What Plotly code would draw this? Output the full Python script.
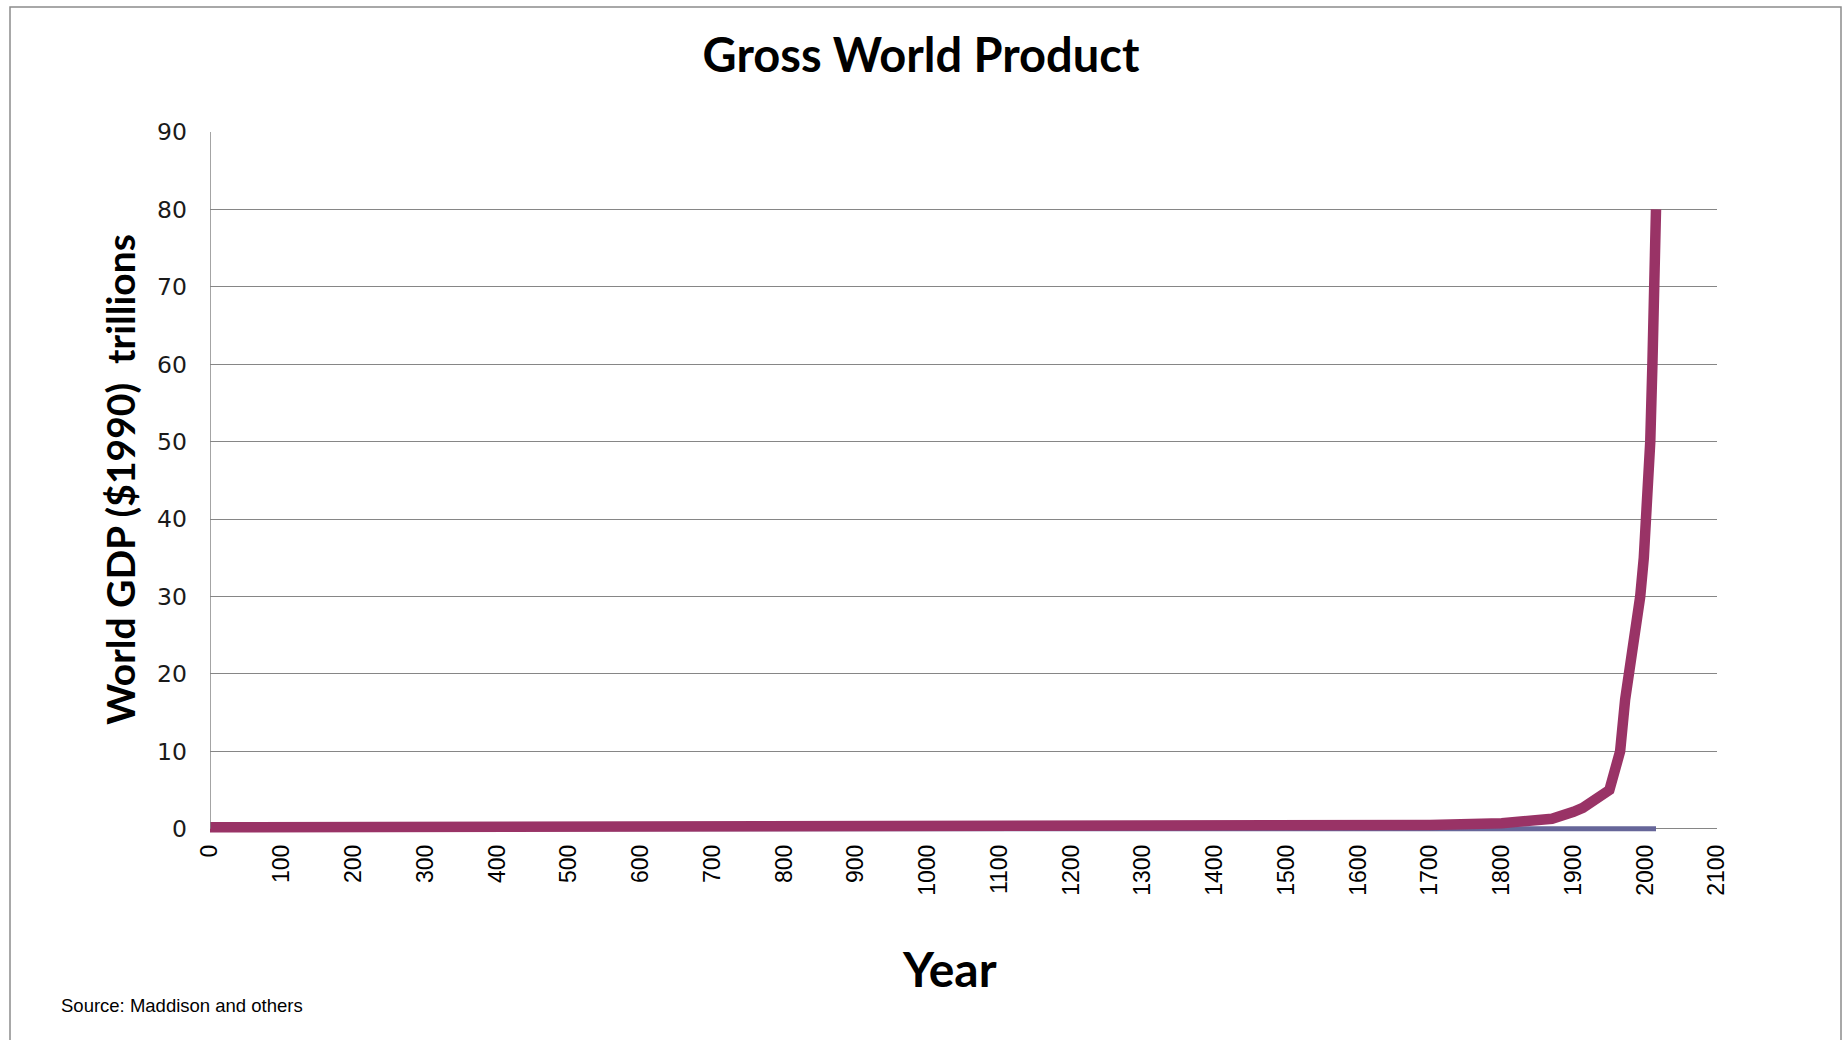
import plotly.graph_objects as go

# ---- data ----
red_years = [0, 1000, 1500, 1600, 1700, 1800, 1850, 1870, 1900, 1913, 1950,
             1958, 1965, 1972, 1978, 1986, 1993, 1998, 2002, 2003, 2007,
             2010, 2013, 2015]
red_values = [0.2, 0.22, 0.3, 0.35, 0.5, 0.72, 1.1, 1.3, 2.2, 2.7, 5.0,
              7.2, 10.0, 16.7, 20.0, 26.0, 30.0, 35.0, 40.0, 42.5, 50.0,
              60.0, 70.0, 80.0]

blue_years = [0, 1000, 1500, 1820, 1900, 1950, 2000, 2015]
blue_values = [0.0, 0.0, 0.0, 0.0, 0.0, 0.0, 0.0, 0.0]

x_ticks = list(range(0, 2101, 100))
y_ticks = list(range(0, 91, 10))

title_text = "Gross World Product"
y_title = "World GDP ($1990)  trillions"
x_title = "Year"
source_text = "Source: Maddison and others"

# ---- geometry helpers (pixels -> paper) ----
W, H = 1842, 1040
L, R, T = 210, 125, 132
y_lo, y_hi = -0.8, 90
px_per_unit = (829.3 - 132) / 90
plot_h = (y_hi - y_lo) * px_per_unit
B = H - T - plot_h
plot_w = W - L - R
bottom_px = T + plot_h


def px(xp):
    return (xp - L) / plot_w


def py(yp):
    return (bottom_px - yp) / plot_h


fig = go.Figure()
fig.add_trace(go.Scatter(x=blue_years, y=blue_values, mode="lines",
                         line=dict(color="#666699", width=5),
                         hoverinfo="skip", showlegend=False))
fig.add_trace(go.Scatter(x=red_years, y=red_values, mode="lines",
                         line=dict(color="#993366", width=10.5),
                         showlegend=False))

grid = "#868686"
fig.update_layout(
    width=W, height=H,
    margin=dict(l=L, r=R, t=T, b=B, pad=0),
    paper_bgcolor="white", plot_bgcolor="white",
    title=dict(text=title_text, x=0.5, xref="container", xanchor="center",
               y=1 - 56 / H, yref="container", yanchor="middle",
               font=dict(family="Lato", size=47, color="black", weight="bold")),
    xaxis=dict(range=[0, 2100], tickmode="array", tickvals=x_ticks,
               ticktext=[str(v) for v in x_ticks], tickangle=-90,
               showgrid=False, zeroline=False, showline=False, ticks="",
               ticklabelstandoff=4,
               tickfont=dict(family="Liberation Sans", size=23, color="black")),
    yaxis=dict(range=[y_lo, y_hi], tickmode="array", tickvals=y_ticks,
               ticktext=[str(v) for v in y_ticks],
               showgrid=True, gridcolor=grid, gridwidth=1,
               zeroline=True, zerolinecolor=grid, zerolinewidth=1,
               showline=False, ticks="", ticklabelstandoff=22,
               tickfont=dict(family="DejaVu Sans", size=23.5, color="#1a1a1a")),
    shapes=[
        dict(type="line", xref="x", yref="y", x0=0, x1=0, y0=0, y1=90,
             line=dict(color=grid, width=1.5)),
        dict(type="rect", xref="paper", yref="paper",
             x0=px(10), x1=px(1841), y0=py(1050), y1=py(7),
             line=dict(color="#8c8c8c", width=1.5), fillcolor="rgba(0,0,0,0)"),
    ],
    annotations=[
        dict(text=y_title, xref="paper", yref="paper", x=px(120), y=py(480),
             xanchor="center", yanchor="middle", textangle=-90, showarrow=False,
             font=dict(family="Lato", size=39, color="black", weight="bold")),
        dict(text=x_title, xref="paper", yref="paper", x=px(949), y=py(969),
             xanchor="center", yanchor="middle", showarrow=False,
             font=dict(family="Lato", size=48, color="black", weight="bold")),
        dict(text=source_text, xref="paper", yref="paper", x=px(59), y=py(1006),
             xanchor="left", yanchor="middle", showarrow=False,
             font=dict(family="Liberation Sans", size=18.5, color="black")),
    ],
)

fig.write_html("out.html")
